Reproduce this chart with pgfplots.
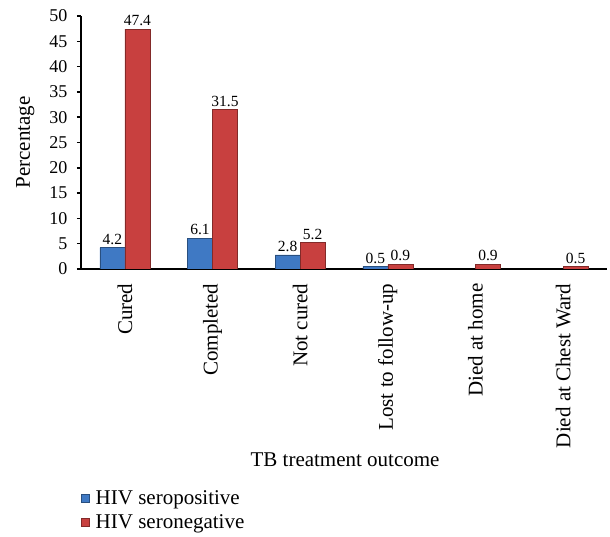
\documentclass[border=0pt]{standalone}
\usepackage{pgfplots}
\pgfplotsset{compat=1.18}
\usepackage{fontspec}
\setmainfont{Liberation Serif}
\definecolor{hivblue}{HTML}{3F79C4}
\definecolor{hivred}{HTML}{C8403F}
\begin{document}
\begin{tikzpicture}
\useasboundingbox (-81pt,-268pt) rectangle (529pt,269pt);
\begin{axis}[
  at={(0pt,0pt)}, anchor=south west,
  width=526pt, height=253pt, scale only axis,
  ybar=0pt, bar width=25pt,
  xmin=-0.5, xmax=5.5, ymin=0, ymax=50,
  ytick={0,5,...,50},
  xtick={0,1,2,3,4,5},
  xticklabels={Cured,Completed,Not cured,Lost to follow-up,Died at home,Died at Chest Ward},
  major x tick style={draw=none},
  extra x ticks={-0.5,0.5,1.5,2.5,3.5,4.5,5.5},
  extra x tick labels={},
  extra x tick style={major tick length=5pt, tick style={black, line width=1.5pt}},
  axis lines=left,
  axis line style={-, line width=1.5pt, black},
  tick align=outside,
  major tick length=4pt,
  y tick style={black, line width=1.5pt},
  /pgf/number format/assume math mode=true,
  yticklabel style={font=\fontsize{18}{20}\selectfont, xshift=-6pt},
  xticklabel shift=7pt,
  xticklabel style={font=\fontsize{21}{24}\selectfont, rotate=90, anchor=east},
  ylabel={Percentage},
  ylabel style={font=\fontsize{21}{24}\selectfont, at={(axis description cs:-0.106,0.5)}, anchor=center, rotate=0},
  xlabel={TB treatment outcome},
  xlabel style={font=\fontsize{21}{24}\selectfont, at={(axis description cs:0.502,-0.755)}, anchor=center},
  nodes near coords,
  nodes near coords style={font=\fontsize{15.5}{17}\selectfont, /pgf/number format/fixed, /pgf/number format/precision=1, /pgf/number format/fixed zerofill, /pgf/number format/assume math mode=true, inner sep=2pt, yshift=1pt},
  legend style={draw=none, fill=none, at={(axis description cs:0,-0.872)}, anchor=north west,
    font=\fontsize{21}{24}\selectfont, row sep=6pt, inner xsep=0pt, inner ysep=0pt,
    nodes={inner xsep=2pt, inner ysep=1pt}},
  legend cell align=left,
  legend image code/.code={\fill[#1] (0pt,-4pt) rectangle (8pt,4pt); \path (0pt,0pt) (12pt,0pt);},
]
\addplot[draw=hivblue!65!black, fill=hivblue, line width=0.5pt]
  coordinates {(0,4.2) (1,6.1) (2,2.8) (3,0.5)};
\addplot[draw=hivred!65!black, fill=hivred, line width=0.5pt]
  coordinates {(0,47.4) (1,31.5) (2,5.2) (3,0.9) (4,0.9) (5,0.5)};
\legend{HIV seropositive, HIV seronegative}
\end{axis}
\end{tikzpicture}
\end{document}
